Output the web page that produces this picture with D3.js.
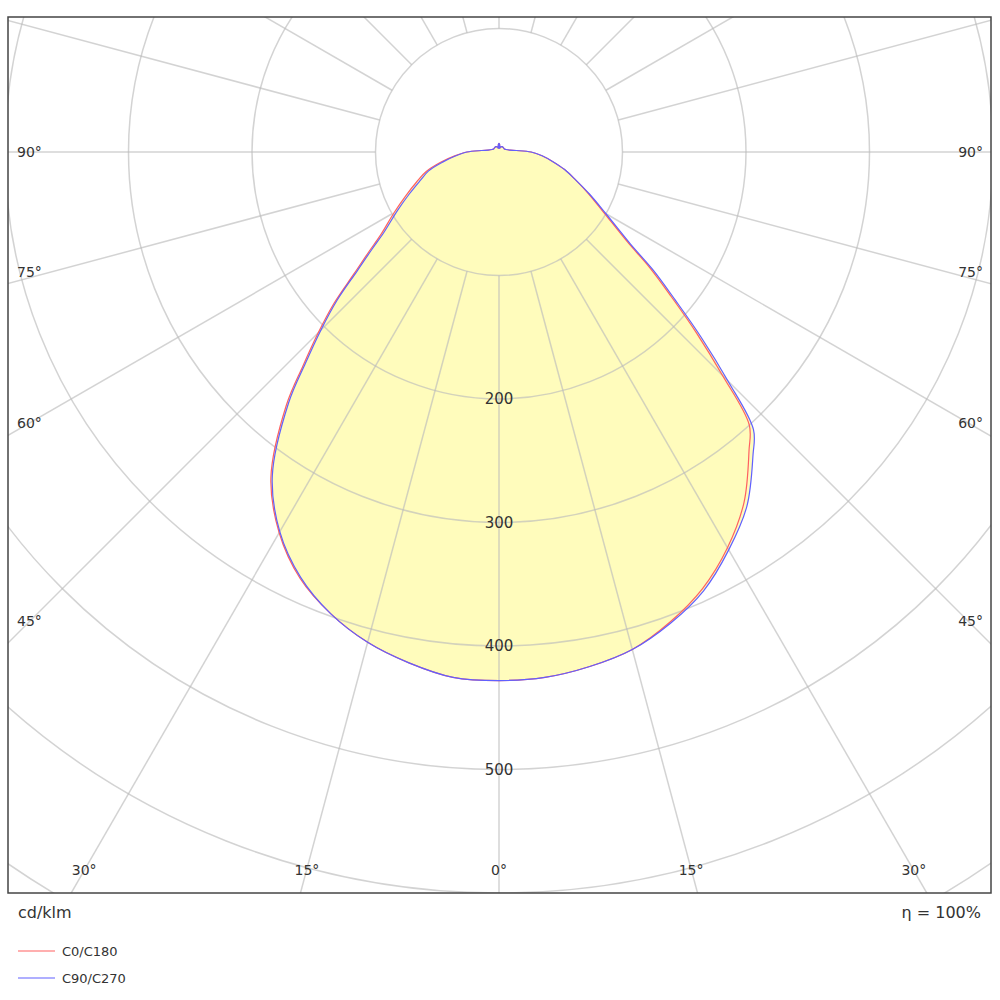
<!DOCTYPE html>
<html>
<head>
<meta charset="utf-8">
<script src="https://cdn.jsdelivr.net/npm/d3@7"></script>
<style>
  body { margin: 0; background: #fff; }
  text { font-family: "DejaVu Sans", sans-serif; fill: #333; }
</style>
</head>
<body>
<svg id="chart" width="1000" height="1000"></svg>
<script>
// gamma angles (degrees) and intensities in cd/klm
const gamma = [0, 5, 10, 15, 20, 25, 30, 35, 40, 42.5, 45, 47.5, 50, 52.5, 55, 60, 65, 70, 75, 80, 85, 90, 95, 100, 110, 120, 135, 150, 165, 170, 175, 180];
// right half
const c0   = [428, 427, 423, 417, 405, 390, 370, 346, 315, 300, 256, 217, 182, 154, 127, 98, 80, 66, 55, 44, 35, 26, 14, 9, 6, 5, 5, 5, 4, 3, 6, 7];
const c90  = [428, 427, 423, 417, 406, 392, 372, 350, 320, 305, 262, 222, 186, 158, 130, 100, 81, 66, 55, 44, 35, 26, 14, 9, 6, 5, 5, 5, 4, 3, 6, 7];
// left half
const c180 = [428, 427, 420, 411, 398, 381, 356, 322, 268, 235, 207, 181, 153, 133, 117, 98, 83, 71, 61, 48, 36, 26, 14, 9, 6, 5, 5, 5, 4, 3, 6, 7];
const c270 = [428, 427, 420, 411, 398, 380, 355, 320, 265, 232, 204, 178, 150, 130, 114, 95, 80, 68, 59, 46, 35, 26, 14, 9, 6, 5, 5, 5, 4, 3, 6, 7];

const ringValues = [100, 200, 300, 400, 500, 600, 700, 800, 900, 1000];
const ringLabels = [200, 300, 400, 500];
const spokeAngles = d3.range(0, 360, 15);
const sideLabels = [90, 75, 60, 45];
const bottomLabels = [30, 15, 0, 15, 30];
const bottomSigned = [-30, -15, 0, 15, 30];

const svg = d3.select("#chart");
const frame = {x: 8, y: 17, w: 983, h: 876};
const cx = 499, cy = 152;
const r = d3.scaleLinear().domain([0, 100]).range([0, 123.5]);
const rad = d => d * Math.PI / 180;

svg.append("clipPath").attr("id", "clip")
    .append("rect").attr("x", frame.x).attr("y", frame.y).attr("width", frame.w).attr("height", frame.h);

const g = svg.append("g").attr("clip-path", "url(#clip)")
    .append("g").attr("transform", `translate(${cx},${cy})`);

function points(right, left) {
    const pts = gamma.map((a, i) => [Math.PI - rad(a), r(right[i])]);
    for (let i = gamma.length - 2; i > 0; i--) pts.push([Math.PI + rad(gamma[i]), r(left[i])]);
    return pts;
}
const line = d3.lineRadial().curve(d3.curveCatmullRomClosed);

// fill
g.append("path").attr("d", line(points(c90, c180)))
    .attr("fill", "#fffbb0").attr("fill-opacity", 0.85);

// grid
g.selectAll("circle.ring").data(ringValues).enter().append("circle")
    .attr("r", d => r(d)).attr("fill", "none")
    .attr("stroke", "#bbb").attr("stroke-opacity", 0.65).attr("stroke-width", 1.5);
g.selectAll("line.spoke").data(spokeAngles).enter().append("line")
    .attr("x1", d => r(100) * Math.sin(rad(d))).attr("y1", d => r(100) * Math.cos(rad(d)))
    .attr("x2", d => r(1100) * Math.sin(rad(d))).attr("y2", d => r(1100) * Math.cos(rad(d)))
    .attr("stroke", "#bbb").attr("stroke-opacity", 0.65).attr("stroke-width", 1.5);

// curves
g.append("path").attr("d", line(points(c0, c180)))
    .attr("fill", "none").attr("stroke", "#ff6060").attr("stroke-width", 1.2);
g.append("path").attr("d", line(points(c90, c270)))
    .attr("fill", "none").attr("stroke", "#6060ff").attr("stroke-width", 1.2);

// ring labels
g.selectAll("text.ring").data(ringLabels).enter().append("text")
    .attr("x", 0).attr("y", d => r(d) + 5).attr("text-anchor", "middle")
    .attr("font-size", 15).text(d => d);

// frame
svg.append("rect").attr("x", frame.x).attr("y", frame.y).attr("width", frame.w).attr("height", frame.h)
    .attr("fill", "none").attr("stroke", "#444").attr("stroke-width", 1.5);

// side angle labels
const sideY = d => d === 90 ? cy + 5 : Math.min(cy + (cx - frame.x) / Math.tan(rad(d)) - 7, 626);
svg.selectAll("text.sl").data(sideLabels).enter().append("text")
    .attr("x", 17).attr("y", sideY).attr("font-size", 14).text(d => d + "°");
svg.selectAll("text.sr").data(sideLabels).enter().append("text")
    .attr("x", 983).attr("y", sideY).attr("text-anchor", "end").attr("font-size", 14).text(d => d + "°");
svg.selectAll("text.bl").data(bottomSigned).enter().append("text")
    .attr("x", d => cx + (frame.y + frame.h - cy) * Math.tan(rad(d)) - d / 30 * 13 * (Math.abs(d) === 15 ? 1 : 1))
    .attr("y", 875).attr("text-anchor", "middle").attr("font-size", 14)
    .text((d, i) => bottomLabels[i] + "°");

// footer
svg.append("text").attr("x", 18).attr("y", 918).attr("font-size", 16).text("cd/klm");
svg.append("text").attr("x", 981).attr("y", 918).attr("text-anchor", "end").attr("font-size", 16).text("η = 100%");
const legend = [{name: "C0/C180", color: "#ff6060"}, {name: "C90/C270", color: "#6060ff"}];
const lg = svg.selectAll("g.lg").data(legend).enter().append("g")
    .attr("transform", (d, i) => `translate(18,${951 + i * 27})`);
lg.append("line").attr("x1", 0).attr("x2", 37).attr("stroke", d => d.color).attr("stroke-width", 1.2);
lg.append("text").attr("x", 44).attr("y", 5).attr("font-size", 13).text(d => d.name);
</script>
</body>
</html>
